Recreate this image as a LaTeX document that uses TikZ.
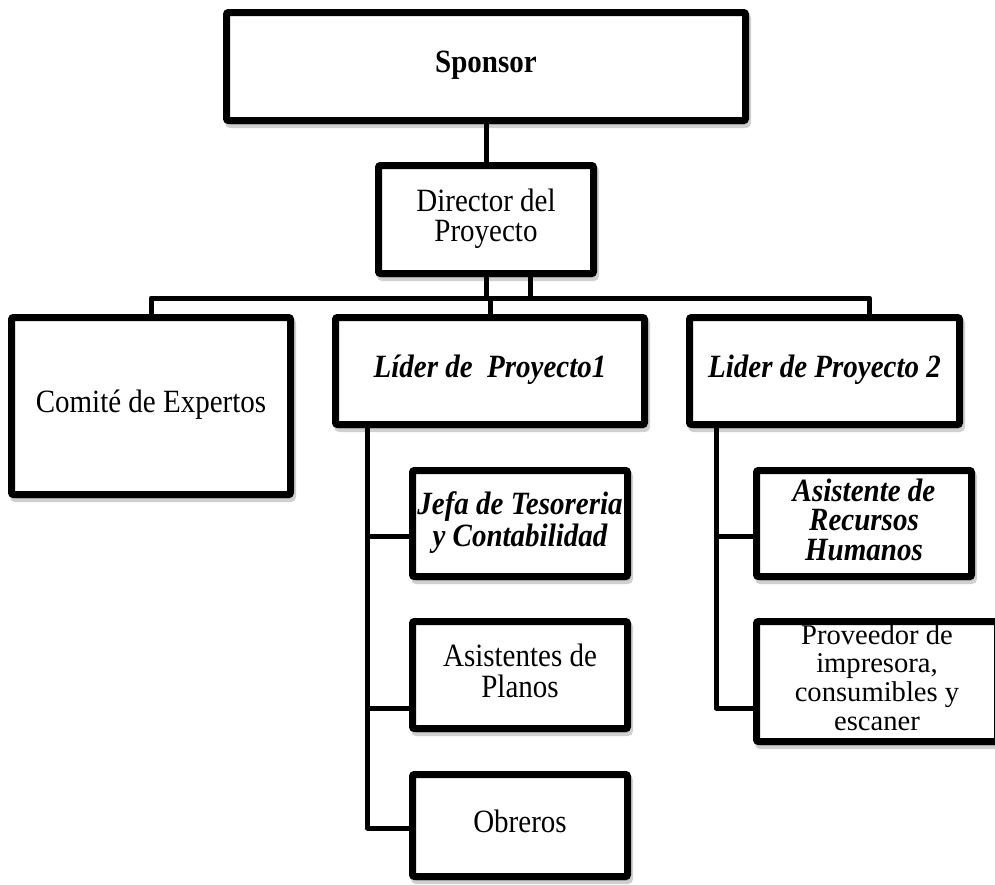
\documentclass[tikz,border=0pt]{standalone}
\usepackage{fontspec}
\setmainfont{Liberation Serif}
\usetikzlibrary{calc,shadows}
% text set slightly taller than wide, one centred line per row
\newcommand{\tallcell}[1]{\scalebox{1}[1.12]{\begin{tabular}{@{}c@{}}#1\end{tabular}}}
\newcommand{\plaincell}[1]{\begin{tabular}{@{}c@{}}#1\end{tabular}}
\begin{document}
\begin{tikzpicture}[x=0.5pt,y=-0.5pt,
  orgbox/.style={draw=black, line width=3.5pt, rounded corners=1pt, fill=white,
    inner sep=0pt, align=center,
    font=\fontsize{14.5pt}{13pt}\selectfont,
    drop shadow={shadow xshift=1pt, shadow yshift=-2pt, opacity=0.3,
      fill=black!60, draw=black!60, line width=3.5pt}},
  head/.style={font=\fontsize{14.5pt}{13pt}\selectfont\bfseries},
  lead/.style={font=\fontsize{14.5pt}{13pt}\selectfont\bfseries\itshape},
  leadtight/.style={font=\fontsize{14.5pt}{12pt}\selectfont\bfseries\itshape},
  dense/.style={font=\fontsize{14.3pt}{14.3pt}\selectfont},
  conn/.style={draw=black, line width=2.5pt, line join=round}]

% page frame
\useasboundingbox (0,0) rectangle (995,884);
\fill[white] (0,0) rectangle (995,884);
\clip (0,0) rectangle (995,884);

% boxes
\node[orgbox, head, minimum width=259.5pt, minimum height=54pt] (sponsor) at (486,66.5) {\tallcell{Sponsor}};
\node[orgbox, minimum width=107.5pt, minimum height=54pt] (director) at (486,219.5) {\tallcell{Director del\\Proyecto}};
\node[orgbox, minimum width=139.5pt, minimum height=88.5pt] (comite) at (151,406) {\tallcell{Comité de Expertos}};
\node[orgbox, lead, minimum width=154.5pt, minimum height=53.5pt] (lider1) at (490,371) {\tallcell{Líder de\ \ Proyecto1}};
\node[orgbox, lead, minimum width=135pt, minimum height=53.5pt] (lider2) at (824.5,371) {\tallcell{Lider de Proyecto 2}};
\node[orgbox, lead, minimum width=107.5pt, minimum height=53pt] (jefa) at (520,523.5) {\tallcell{Jefa de Tesoreria\\y Contabilidad}};
\node[orgbox, minimum width=107.5pt, minimum height=53.5pt] (planos) at (520,675) {\tallcell{Asistentes de\\Planos}};
\node[orgbox, minimum width=107.5pt, minimum height=51pt] (obreros) at (520,825.5) {\tallcell{Obreros}};
\node[orgbox, leadtight, minimum width=107.5pt, minimum height=53pt] (asistrh) at (864,523.5) {\tallcell{Asistente de\\Recursos\\Humanos}};
\node[orgbox, dense, minimum width=120.5pt, minimum height=60pt] (proveedor) at (877,681.5) {\plaincell{Proveedor de\\impresora,\\consumibles y\\escaner}};

% bus and trunk positions
\coordinate (busL) at (151,298);
\coordinate (busR) at (869.5,298);
\coordinate (trA) at (367.5,0);
\coordinate (trB) at (716,0);
\coordinate (jb) at ($(jefa.west)+(0,12.5)$);
\coordinate (pb) at ($(planos.west)+(0,33)$);
\coordinate (ob) at ($(obreros.west)+(0,2.5)$);
\coordinate (ab) at ($(asistrh.west)+(0,12.5)$);
\coordinate (vb) at ($(proveedor.west)+(0,26.5)$);

% connectors
\draw[conn] (sponsor) -- (director);
\draw[conn] (comite.north) -- (busL) -- (busR) -- (busR |- lider2.north);
\draw[conn] (director.south) -- (director.south |- busL);
\draw[conn] ($(director.south)+(44,0)$) -- ($(director.south |- busL)+(44,0)$);
\draw[conn] (lider1.north) -- (lider1.north |- busL);

\draw[conn] (lider1.south -| trA) |- (ob);
\draw[conn] (jb -| trA) -- (jb);
\draw[conn] (pb -| trA) -- (pb);

\draw[conn] (lider2.south -| trB) |- (vb);
\draw[conn] (ab -| trB) -- (ab);
\end{tikzpicture}
\end{document}
